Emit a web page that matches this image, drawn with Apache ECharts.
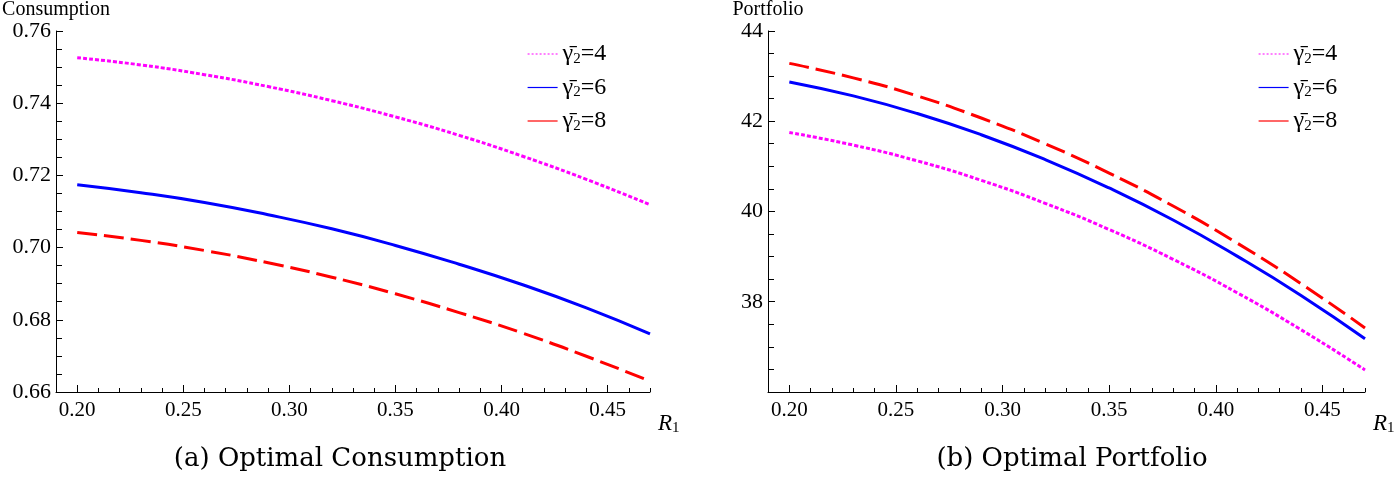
<!DOCTYPE html>
<html>
<head>
<meta charset="utf-8">
<script src="https://cdn.jsdelivr.net/npm/echarts@6/dist/echarts.min.js"></script>
<style>html,body{margin:0;padding:0;background:#fff;}#c{width:1399px;height:478px;}</style>
</head>
<body>
<div id="c"></div>
<script>
// ---- data ----
const R1 = [0.20, 0.23, 0.26, 0.29, 0.32, 0.35, 0.38, 0.41, 0.44, 0.47];
const consG4 = [0.7526, 0.7506, 0.7479, 0.7446, 0.7407, 0.7362, 0.7311, 0.7253, 0.7189, 0.7119];
const consG6 = [0.7174, 0.7152, 0.7125, 0.7091, 0.7052, 0.7006, 0.6954, 0.6897, 0.6833, 0.6761];
const consG8 = [0.7042, 0.7020, 0.6992, 0.6958, 0.6918, 0.6872, 0.6820, 0.6763, 0.6699, 0.6630];
const portG4 = [41.75, 41.47, 41.12, 40.69, 40.18, 39.60, 38.94, 38.20, 37.38, 36.49];
const portG6 = [42.87, 42.56, 42.17, 41.70, 41.15, 40.52, 39.81, 39.01, 38.14, 37.18];
const portG8 = [43.28, 42.96, 42.56, 42.07, 41.50, 40.85, 40.12, 39.30, 38.40, 37.42];
const xTickLabels = [0.20, 0.25, 0.30, 0.35, 0.40, 0.45];
const seriesNames = ['γ̄2=4', 'γ̄2=6', 'γ̄2=8'];
const panelTitles = ['(a) Optimal Consumption', '(b) Optimal Portfolio'];
const yNames = ['Consumption', 'Portfolio'];

const pair = (ys) => R1.map((x, i) => [x, ys[i]]);
const SERIF = 'Liberation Serif';
const colors = ['#ff00ff', '#0000ff', '#ff0000'];
const lineTypes = [[4, 2], 'solid', [20, 7]];
const legendTypes = [[2, 2], 'solid', 'solid'];

const chart = echarts.init(document.getElementById('c'), null, {renderer: 'canvas'});

function xAxes(gi) {
  return [{
    type: 'value', gridIndex: gi, position: 'bottom', min: 0.19, max: 0.47,
    axisLine: {lineStyle: {color: '#000', width: 1}},
    axisTick: {inside: true, length: 7, customValues: xTickLabels, lineStyle: {color: '#000'}},
    axisLabel: {customValues: xTickLabels, formatter: v => v.toFixed(2), color: '#000', fontFamily: SERIF, fontSize: 21, margin: 8},
    splitLine: {show: false},
    name: '{r|R}{s|1}', nameLocation: 'end', nameGap: 8,
    nameTextStyle: {verticalAlign: 'top', padding: [19, 0, 0, 0],
      rich: {r: {fontFamily: SERIF, fontStyle: 'italic', fontSize: 23, color: '#000'},
             s: {fontFamily: SERIF, fontSize: 15, color: '#000', padding: [10, 0, 0, 0]}}}
  }, {
    type: 'value', gridIndex: gi, position: 'bottom', min: 0.19, max: 0.47, interval: 0.01,
    axisLine: {show: false},
    axisTick: {inside: true, length: 4, lineStyle: {color: '#000'}},
    axisLabel: {show: false}, splitLine: {show: false}
  }];
}

const legendRich = {
  g: {fontFamily: SERIF, fontSize: 24, color: '#000'},
  s: {fontFamily: SERIF, fontSize: 15, color: '#000', padding: [10, 0, 0, 0]},
  t: {fontFamily: SERIF, fontSize: 24, color: '#000'}
};
function legendFmt(n) {
  const parts = n.split('=');
  return '{g|γ̄}{s|2}{t|=' + parts[1] + '}';
}
function legend(left) {
  return {
    orient: 'vertical', left: left, top: 37,
    itemWidth: 30, itemHeight: 14, itemGap: 9,
    data: seriesNames.map((n, i) => ({
      name: n,
      lineStyle: {color: colors[i], type: legendTypes[i], width: 1.2, opacity: 1},
      itemStyle: {opacity: 0}
    })),
    formatter: legendFmt,
    textStyle: {rich: legendRich},
    selectedMode: false
  };
}

function mkSeries(xi, yi, arrs) {
  return arrs.map((arr, i) => ({
    type: 'line', name: seriesNames[i], xAxisIndex: xi, yAxisIndex: yi,
    data: pair(arr), smooth: true, showSymbol: false, symbol: 'none',
    lineStyle: {color: colors[i], width: 3, type: lineTypes[i]},
    itemStyle: {color: colors[i]}
  }));
}

const titleStyle = {fontFamily: 'DejaVu Serif', fontWeight: 'normal', fontSize: 26, color: '#000'};
const option = {
  animation: false,
  backgroundColor: '#fff',
  title: [
    {text: panelTitles[0], left: 335, top: 441, textAlign: 'center', textStyle: titleStyle},
    {text: panelTitles[1], left: 1067, top: 441, textAlign: 'center', textStyle: titleStyle}
  ],
  grid: [
    {left: 56, right: 749, top: 31, bottom: 86, containLabel: false},
    {left: 768, right: 34, top: 28, bottom: 86, containLabel: false}
  ],
  xAxis: [...xAxes(0), ...xAxes(1)],
  yAxis: [{
    type: 'value', gridIndex: 0, min: 0.66, max: 0.76, interval: 0.02,
    axisLine: {show: true, lineStyle: {color: '#000'}},
    axisTick: {show: true, inside: true, length: 7, lineStyle: {color: '#000'}},
    minorTick: {show: true, splitNumber: 4, length: 6, lineStyle: {color: '#000'}},
    axisLabel: {formatter: v => v.toFixed(2), color: '#000', fontFamily: SERIF, fontSize: 22, margin: 5},
    splitLine: {show: false},
    name: yNames[0], nameLocation: 'end', nameGap: 8,
    nameTextStyle: {fontFamily: SERIF, fontSize: 20, color: '#000', align: 'center'}
  }, {
    type: 'value', gridIndex: 1, min: 36, max: 44, interval: 2,
    axisLine: {show: true, lineStyle: {color: '#000'}},
    axisTick: {show: true, inside: true, length: 7, lineStyle: {color: '#000'}},
    minorTick: {show: true, splitNumber: 4, length: 6, lineStyle: {color: '#000'}},
    axisLabel: {formatter: v => (v === 36 ? '' : String(v)), color: '#000', fontFamily: SERIF, fontSize: 22, margin: 5},
    splitLine: {show: false},
    name: yNames[1], nameLocation: 'end', nameGap: 7,
    nameTextStyle: {fontFamily: SERIF, fontSize: 20, color: '#000', align: 'center'}
  }],
  legend: [legend(522), legend(1253)],
  series: [
    ...mkSeries(0, 0, [consG4, consG6, consG8]),
    ...mkSeries(2, 1, [portG4, portG6, portG8])
  ]
};
chart.setOption(option);
</script>
</body>
</html>
